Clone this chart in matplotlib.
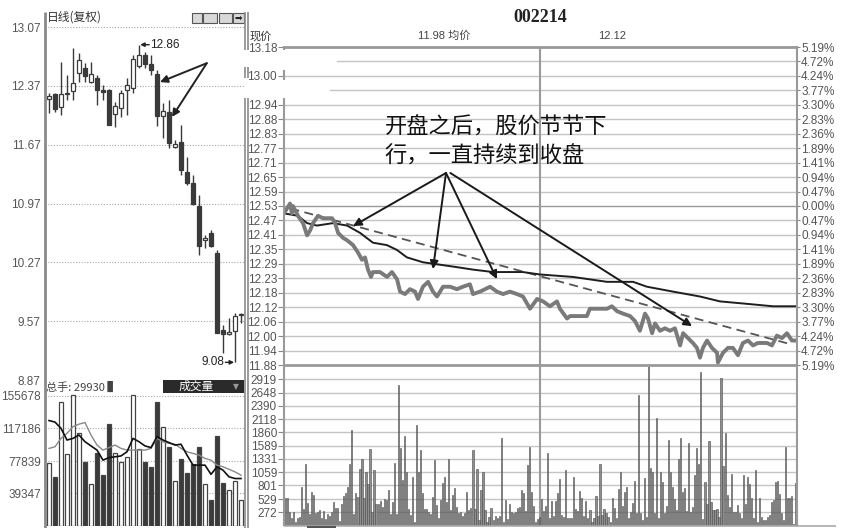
import matplotlib
matplotlib.use('Agg')
import matplotlib.pyplot as plt
import numpy as np
from matplotlib.lines import Line2D
from matplotlib.patches import Rectangle

plt.rcParams['font.family'] = ['Liberation Sans', 'Noto Sans CJK SC', 'DejaVu Sans']
CJK = ['Noto Sans CJK SC', 'DejaVu Sans']

# ---------------- daily K-line data ----------------
day_open = [12.21, 12.27, 12.12, 12.27, 12.31, 12.52, 12.58, 12.42, 12.46, 12.32, 12.32, 12.03, 12.11,
            12.32, 12.34, 12.61, 12.74, 12.63, 12.51, 12.01, 12.06, 11.64, 11.70, 11.34, 11.21, 10.94,
            10.53, 10.62, 10.38, 9.46, 9.42, 9.45, 9.64]
day_high = [12.28, 12.28, 12.65, 12.50, 12.82, 12.76, 12.64, 12.65, 12.50, 12.38, 12.33, 12.18, 12.32,
            12.46, 12.74, 12.86, 12.77, 12.74, 12.56, 12.17, 12.20, 11.72, 11.90, 11.52, 11.31, 11.07,
            10.59, 10.65, 10.42, 9.52, 9.61, 9.67, 9.67]
day_low = [12.05, 12.06, 12.02, 12.20, 12.20, 12.42, 12.42, 12.40, 12.14, 12.20, 11.90, 11.88, 12.00,
           12.02, 12.28, 12.58, 12.58, 12.50, 11.89, 11.75, 11.63, 11.63, 11.31, 11.19, 10.95, 10.36,
           10.44, 10.45, 9.43, 9.19, 9.40, 9.08, 9.55]
day_close = [12.25, 12.10, 12.27, 12.28, 12.40, 12.68, 12.49, 12.51, 12.32, 12.30, 11.91, 12.13, 12.28,
             12.38, 12.69, 12.74, 12.63, 12.56, 12.01, 12.07, 11.69, 11.68, 11.37, 11.21, 10.97, 10.47,
             10.56, 10.46, 9.43, 9.42, 9.44, 9.63, 9.65]
day_volume = [75900, 58460, 148850, 85960, 156860, 111070, 76400, 50450, 87900, 60850, 122190, 87900,
              76760, 82370, 156860, 91940, 76400, 70780, 148490, 118200, 94690, 54040, 79990, 63600,
              74000, 94690, 50450, 30970, 107840, 52010, 43280, 54040, 30970]
vol_ma5 = [126300, 124500, 117000, 103000, 105000, 109000, 101000, 96000, 91000, 79000, 82000, 83000,
           84000, 89000, 105000, 101000, 96000, 94000, 107000, 103000, 100000, 97000, 98000, 85000,
           73000, 73000, 73000, 62000, 71000, 67000, 59000, 57000, 57000]
vol_ma10 = [93000, 95000, 105000, 111000, 119000, 122000, 124000, 109000, 97000, 91000, 94000, 97000,
            93000, 91000, 91000, 91000, 91000, 93000, 105000, 101000, 99000, 98000, 93000, 89000,
            87000, 85000, 81000, 79000, 73000, 71000, 68000, 65000, 61000]
day_price_ticks = [13.07, 12.37, 11.67, 10.97, 10.27, 9.57, 8.87]
day_vol_ticks = [155678, 117186, 77839, 39347]
day_high_label = "12.86"
day_low_label = "9.08"
total_hands = "总手: 29930"

# ---------------- intraday data ----------------
price_min = [0, 2.8, 3.7, 4.2, 6.5, 8.9, 10.8, 12.2, 13.6, 15.9, 18.2, 20.6, 22.5, 23.9, 25.3, 27.6, 29.5,
             32.3, 34.6, 36.5, 37.9, 39.3, 40.7, 41.6, 44.9, 48.2, 50.5, 52.9, 54.3, 56.6, 58.9, 61.3,
             62.7, 65.0, 67.4, 69.7, 71.6, 74.4, 77.7, 80.9, 83.7, 87.0, 88.4, 91.7, 96.4, 99.6, 102.5,
             105.7, 109.0, 111.8, 115.1, 118.4, 121.2, 124.4, 127.7, 129.1, 132.4, 133.8, 141.7, 143.1,
             147.8, 151.1, 153.4, 155.8, 158.6, 161.9, 164.2, 166.5, 168.9, 170.3, 172.2, 173.6, 175.9,
             178.2, 180.6, 182.9, 185.3, 186.7, 189.0, 191.3, 193.2, 194.6, 196.0, 197.9, 200.2, 202.6,
             203.0, 205.4, 207.7, 210.0, 212.4, 214.7, 217.1, 219.4, 221.7, 226.0, 228.3, 230.6, 233.0,
             235.3, 237.6, 240]
price_val = [12.50, 12.54, 12.50, 12.53, 12.49, 12.46, 12.41, 12.43, 12.46, 12.49, 12.48, 12.48, 12.48,
             12.46, 12.42, 12.40, 12.39, 12.37, 12.34, 12.31, 12.32, 12.27, 12.24, 12.26, 12.26, 12.24,
             12.26, 12.23, 12.18, 12.17, 12.19, 12.18, 12.15, 12.20, 12.22, 12.18, 12.16, 12.20, 12.20,
             12.19, 12.20, 12.21, 12.17, 12.18, 12.20, 12.18, 12.17, 12.18, 12.17, 12.16, 12.11, 12.15,
             12.14, 12.12, 12.14, 12.11, 12.07, 12.08, 12.08, 12.11, 12.11, 12.11, 12.12, 12.10, 12.09,
             12.08, 12.06, 12.02, 12.09, 12.07, 12.01, 12.05, 12.02, 12.03, 12.02, 12.03, 11.96, 12.01,
             11.99, 11.97, 11.95, 11.91, 11.95, 11.98, 11.95, 11.93, 11.89, 11.93, 11.95, 11.95, 11.92,
             11.97, 11.98, 11.96, 11.97, 11.97, 11.96, 12.00, 11.99, 12.01, 11.98, 11.98]
avg_min = [0, 6.5, 10.8, 15.4, 22.9, 29.5, 35.6, 41.6, 48.2, 52.9, 57.5, 65.0, 73.0, 80.9, 88.4, 97.8,
           111.8, 119.8, 135.2, 151.1, 163.3, 169.8, 182.0, 194.6, 204.0, 216.6, 228.8, 240]
avg_val = [12.50, 12.49, 12.46, 12.45, 12.46, 12.45, 12.42, 12.38, 12.37, 12.35, 12.32, 12.30, 12.29,
           12.28, 12.27, 12.26, 12.26, 12.25, 12.24, 12.22, 12.22, 12.20, 12.18, 12.16, 12.14, 12.13,
           12.12, 12.12]
trend_min = [3, 237]
trend_val = [12.52, 11.965]
minute_volume = [557, 544, 278, 159, 278, 80, 146, 179, 769, 331, 1220, 444, 232, 676, 610, 245, 278, 312,
                 159, 298, 133, 232, 199, 265, 464, 358, 345, 99, 424, 590, 643, 776, 1227, 1903, 232, 656,
                 564, 1120, 1326, 557, 1061, 829, 1525, 278, 1107, 424, 424, 491, 365, 524, 510, 703, 232,
                 477, 1246, 225, 2798, 1551, 908, 1783, 1061, 331, 212, 975, 66, 2002, 1061, 1498, 650,
                 331, 325, 278, 232, 577, 1300, 411, 146, 510, 842, 968, 477, 1326, 312, 610, 743,
                 378, 245, 278, 199, 245, 663, 312, 345, 1505, 331, 1127, 113, 709, 1061, 312, 80, 179,
                 345, 113, 199, 146, 199, 1737, 80, 510, 133, 424, 278, 245, 278, 345, 378, 709, 643, 298,
                 1207, 1565, 676, 391, 80, 133, 179, 530, 298, 391, 1452, 146, 491, 199, 491, 656, 922,
                 212, 179, 1107, 146, 146, 146, 975, 331, 298, 696, 544, 199, 491, 146, 312, 80, 146, 597,
                 199, 1227, 212, 331, 245, 179, 80, 544, 345, 146, 729, 1074, 398, 663, 776,
                 146, 278, 444, 888, 245, 2599, 245, 113, 955, 179, 3190, 1140, 1074, 245, 2135, 159,
                 1074, 862, 245, 398, 1704, 1074, 776, 530, 312, 1326, 1750, 663, 743, 292, 1651, 278, 378,
                 1008, 1551, 1220, 3063, 133, 875, 424, 1684, 464, 312, 312, 325, 179, 2930, 1193, 1836,
                 610, 378, 1028, 278, 278, 411, 245, 146, 1008, 424, 975, 822, 544, 159, 1107, 80, 544,
                 179, 113, 113, 166, 212, 477, 510, 862, 888, 636, 245, 113, 1558, 544, 557, 597, 27, 842]
price_labels = ["13.18", "", "13.00", "", "12.94", "12.88", "12.83", "12.77", "12.71", "12.65", "12.59",
                "12.53", "12.47", "12.41", "12.35", "12.29", "12.23", "12.18", "12.12", "12.06", "12.00",
                "11.94", "11.88"]
pct_labels = ["5.19%", "4.72%", "4.24%", "3.77%", "3.30%", "2.83%", "2.36%", "1.89%", "1.41%", "0.94%",
              "0.47%", "0.00%", "0.47%", "0.94%", "1.41%", "1.89%", "2.36%", "2.83%", "3.30%", "3.77%",
              "4.24%", "4.72%", "5.19%"]
price_top, price_bottom = 13.18, 11.88
mvol_ticks = [272, 529, 801, 1059, 1331, 1589, 1860, 2118, 2390, 2648, 2919]
title = "002214"
hdr_now = "现价"
hdr_avg = "11.98 均价"
hdr_right = "12.12"
note_lines = ["开盘之后，股价节节下", "行，一直持续到收盘"]
arrow_tail = (75.8, 12.665)
arrow_heads = [(32.3, 12.448), (69.7, 12.272), (99.6, 12.231), (190.9, 12.039)]

# ---------------- figure ----------------
W, H = 844, 528
fig = plt.figure(figsize=(W / 100, H / 100), dpi=100)
fig.patch.set_facecolor('white')


def add_ax(x0, y0, x1, y1):
    a = fig.add_axes([x0 / W, 1 - y1 / H, (x1 - x0) / W, (y1 - y0) / H])
    a.set_facecolor('none')
    for s in a.spines.values():
        s.set_visible(False)
    return a


def fx(x):
    return x / W


def fy(y):
    return 1 - y / H


def vline_px(x, y0, y1, color='#8a8a8a', lw=1.5):
    fig.add_artist(Line2D([fx(x), fx(x)], [fy(y0), fy(y1)], transform=fig.transFigure,
                          color=color, lw=lw, solid_capstyle='butt'))


def hline_px(y, x0, x1, color='#8a8a8a', lw=1.0):
    fig.add_artist(Line2D([fx(x0), fx(x1)], [fy(y), fy(y)], transform=fig.transFigure,
                          color=color, lw=lw, solid_capstyle='butt'))


TICK_C = '#555555'
DARK = '#3a3a3a'
n_days = len(day_open)
idx = np.arange(n_days)
o = np.array(day_open)
c = np.array(day_close)
up = c >= o

# ---- left candle panel ----
axc = add_ax(45, 12, 244, 380)
axc.set_xlim(-0.667, 32.5)
axc.set_ylim(8.87, 13.249)
for lv in day_price_ticks[:-1]:
    axc.axhline(lv, color='#a8a8a8', lw=0.8, ls=(0, (1, 1.5)), zorder=0)
axc.vlines(idx, day_low, day_high, color=DARK, lw=1.0, zorder=2)
axc.bar(idx, np.maximum(np.abs(c - o), 0.015), bottom=np.minimum(o, c), width=0.75,
        color=np.where(up, 'white', DARK), edgecolor=DARK, lw=0.9, zorder=3)
axc.set_xticks([])
axc.set_yticks(day_price_ticks)
axc.set_yticklabels([f"{v:.2f}" for v in day_price_ticks])
axc.tick_params(axis='y', length=0, pad=3, labelsize=8.5, labelcolor=TICK_C)
hi_i = int(np.argmax(day_high))
lo_i = int(np.argmin(day_low))
axc.annotate("", xy=(hi_i + 0.2, day_high[hi_i]), xytext=(hi_i + 1.7, day_high[hi_i]),
             arrowprops=dict(arrowstyle='-|>', color='#222', lw=1.0, mutation_scale=6, shrinkA=0, shrinkB=0))
axc.text(hi_i + 1.8, day_high[hi_i], day_high_label, va='center', ha='left', fontsize=8.5, color='#222')
axc.annotate("", xy=(lo_i - 0.15, day_low[lo_i]), xytext=(lo_i - 1.6, day_low[lo_i]),
             arrowprops=dict(arrowstyle='-|>', color='#222', lw=1.0, mutation_scale=6, shrinkA=0, shrinkB=0))
axc.text(lo_i - 1.75, day_low[lo_i], day_low_label, va='center', ha='right', fontsize=8.5, color='#222')
for tgt in [(18.5, 12.415), (20.5, 12.0)]:
    axc.annotate("", xy=tgt, xytext=(26.3, 12.64),
                 arrowprops=dict(arrowstyle='-|>', color='#222', lw=1.4, mutation_scale=11,
                                 shrinkA=0, shrinkB=0), annotation_clip=False)
fig.text(fx(47), fy(17), "日线(复权)", family=CJK, fontsize=8.5, color='#333', va='center', ha='left')
for (x0, x1) in [(192, 202), (203, 217), (219, 232), (233, 244)]:
    fig.add_artist(Rectangle((fx(x0), fy(23)), (x1 - x0) / W, 10 / H, transform=fig.transFigure,
                             facecolor='#d8d8d8', edgecolor='#555', lw=0.8))
fig.text(fx(238.5), fy(18), "➡", family=['DejaVu Sans'], fontsize=6.5, color='#222', ha='center', va='center')

# ---- left volume panel ----
axv = add_ax(45, 380, 244, 526.2)
axv.set_xlim(-0.667, 32.5)
axv.set_ylim(0, 174800)
for lv in day_vol_ticks:
    axv.axhline(lv, color='#a8a8a8', lw=0.8, ls=(0, (1, 1.5)), zorder=0)
axv.bar(idx, day_volume, width=0.68, color=np.where(up, 'white', DARK), edgecolor='#444', lw=0.9, zorder=2)
axv.plot(idx, vol_ma10, color='#888888', lw=1.0, zorder=3)
axv.plot(idx, vol_ma5, color='#111111', lw=1.2, zorder=4)
axv.set_xticks([])
axv.set_yticks(day_vol_ticks)
axv.set_yticklabels([str(v) for v in day_vol_ticks])
axv.tick_params(axis='y', length=0, pad=3, labelsize=8.5, labelcolor=TICK_C)
fig.text(fx(46), fy(387), total_hands + " ▌", family=CJK, fontsize=8, color='#444', va='center', ha='left')
fig.add_artist(Rectangle((fx(163), fy(393)), 81 / W, 13 / H, transform=fig.transFigure,
                         facecolor='#2a2a2a', edgecolor='none'))
fig.text(fx(196), fy(386.5), "成交量", family=CJK, fontsize=8.5, color='white', va='center', ha='center')
fig.text(fx(236), fy(386.5), "▼", family=['DejaVu Sans'], fontsize=5.5, color='#999', va='center', ha='center')

# frame lines of left block
vline_px(45, 12, 528, color='#8a8a8a', lw=2.0)
for xx in (244.5, 247.5):
    for (a, b) in [(12, 50), (67, 78), (98, 528)]:
        vline_px(xx, a, b, color='#8a8a8a', lw=1.2)

# ---- right price panel ----
levels = np.linspace(price_bottom, price_top, len(price_labels))
axp = add_ax(284, 47, 797, 365)
axp.set_xlim(0, 240)
axp.set_ylim(price_bottom, price_top)
n_lv = len(levels)
for k, lv in enumerate(levels):
    if k in (0, n_lv - 1):
        continue
    start = 0
    if k == n_lv - 2:
        start = 24.8
    elif k == n_lv - 4:
        start = 21.5
    col = '#9a9a9a' if k == n_lv // 2 else '#c4c4c4'
    axp.plot([start, 240], [lv, lv], color=col, lw=1.0, zorder=0)
axp.axvline(120, color='#9a9a9a', lw=1.5, zorder=0)
axp.plot(trend_min, trend_val, color='#555555', lw=1.3, ls=(0, (5, 3)), zorder=2)
axp.plot(avg_min, avg_val, color='#1e1e1e', lw=1.4, zorder=3)
axp.plot(price_min, price_val, color='#7a7a7a', lw=2.8, zorder=4, solid_joinstyle='round')
axp.set_xticks([])
rev_labels = price_labels[::-1]
keep = [k for k, t in enumerate(rev_labels) if t]
axp.set_yticks(levels[keep])
axp.set_yticklabels([rev_labels[k] for k in keep])
axp.tick_params(axis='y', length=4, width=0.8, color='#888', pad=1, labelsize=8.5, labelcolor=TICK_C)
axr = axp.twinx()
for s in axr.spines.values():
    s.set_visible(False)
axr.set_ylim(price_bottom, price_top)
axr.set_yticks(levels)
axr.set_yticklabels(pct_labels[::-1])
axr.tick_params(axis='y', length=2, width=0.8, color='#888', pad=1, labelsize=8.5, labelcolor=TICK_C)
axp.text(47.2, 12.853, note_lines[0], family=CJK, fontsize=16, color='#111', va='center', ha='left')
axp.text(47.2, 12.734, note_lines[1], family=CJK, fontsize=16, color='#111', va='center', ha='left')
for k, hd in enumerate(arrow_heads):
    tail = (arrow_tail[0] + (2.0 if k == 3 else 0.0), arrow_tail[1])
    axp.annotate("", xy=hd, xytext=tail,
                 arrowprops=dict(arrowstyle='-|>', color='#1a1a1a', lw=1.4, mutation_scale=12,
                                 shrinkA=0, shrinkB=0))

# ---- right volume panel ----
axm = add_ax(284, 365, 797, 525.7)
axm.set_xlim(0, 240)
axm.set_ylim(0, 3198)
for lv in mvol_ticks:
    axm.axhline(lv, color='#c4c4c4', lw=1.0, zorder=0)
axm.axvline(120, color='#9a9a9a', lw=1.5, zorder=0)
xm = np.linspace(0.6, 239.4, len(minute_volume))
axm.bar(xm, minute_volume, width=0.55, color='#8e8e8e', edgecolor='#4a4a4a', lw=0.4, zorder=2)
axm.set_xticks([])
axm.set_yticks(mvol_ticks)
axm.set_yticklabels([str(v) for v in mvol_ticks])
axm.tick_params(axis='y', length=4, width=0.8, color='#888', pad=1, labelsize=8.5, labelcolor=TICK_C)

# frame lines of right block
hline_px(46.5, 284, 797, color='#999', lw=2.0)
hline_px(365, 284, 797, color='#999', lw=2.0)
hline_px(526, 284, 836, color='#aaa', lw=1.2)
hline_px(527, 307, 336, color='#555', lw=1.5)
for (a, b) in [(46, 50), (70, 80), (98, 526)]:
    vline_px(284, a, b, color='#999', lw=1.5)
vline_px(797, 46, 526, color='#999', lw=1.5)

# headers
fig.text(fx(540), fy(18), title, family=['Liberation Serif'], fontweight='bold', fontsize=13,
         color='#222', ha='center', va='center')
fig.text(fx(250), fy(36), hdr_now, family=CJK, fontsize=8, color='#333', ha='left', va='center')
fig.text(fx(418), fy(36), hdr_avg, family=['Liberation Sans', 'Noto Sans CJK SC'], fontsize=8,
         color='#444', ha='left', va='center')
fig.text(fx(612), fy(36), hdr_right, fontsize=8, color='#444', ha='center', va='center')

fig.savefig('out.png', dpi=100, facecolor='white')
